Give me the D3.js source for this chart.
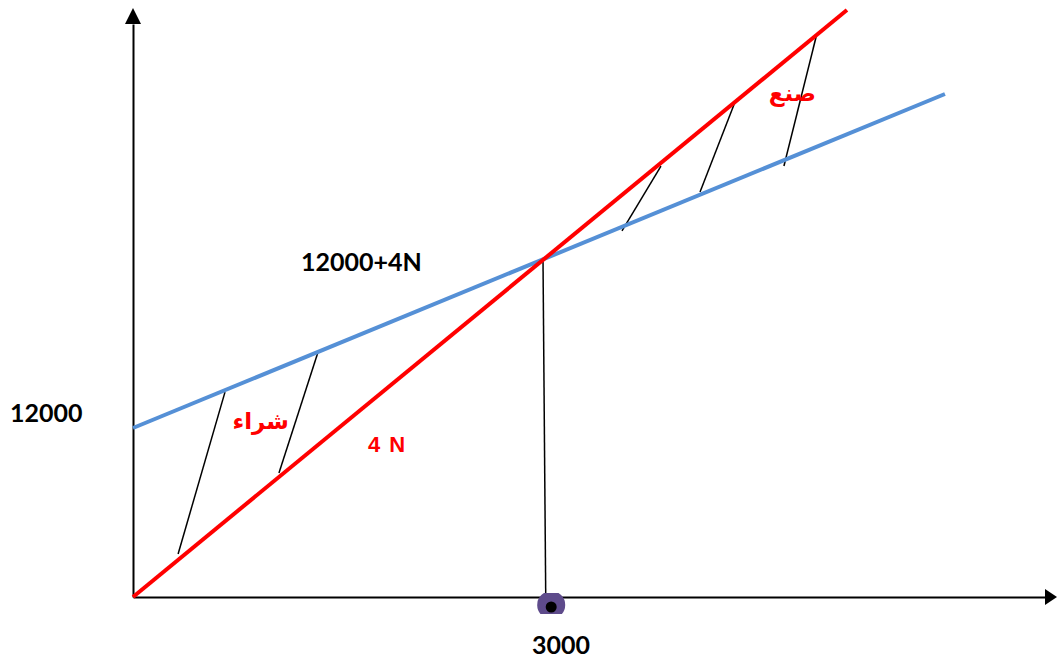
<!DOCTYPE html>
<html>
<head>
<meta charset="utf-8">
<script src="https://cdn.jsdelivr.net/npm/d3@7"></script>
<style>
  html, body { margin: 0; padding: 0; background: #fff; }
  svg { display: block; }
</style>
</head>
<body>
<svg id="chart" width="1057" height="661"></svg>
<script>
// ---- data (schematic units) ----
const redLine  = [[0, 0], [5224, 41680]];          // 4 N
const blueLine = [[0, 12000], [5941, 35716]];      // 12000 + 4N
const breakEven = [[3000, 23929], [3020, 0]];      // drop line at N = 3000
const hatchBuy  = [ [[330, 3050], [673, 14550]], [[1068, 8800], [1354, 17400]] ];
const hatchMake = [ [[3578, 25990], [3863, 30600]], [[4149, 28760], [4405, 35150]], [[4763, 30600], [4998, 39760]] ];
const xTickLabels = ["3000"];
const yTickLabels = ["12000"];
const xAxisMax = 6673, xArrowTip = 6761;
const yAxisMax = 40686, yArrowTip = 41822;

const svg = d3.select("#chart");
const x = d3.scaleLinear().domain([0, 3000]).range([133, 543]);
const y = d3.scaleLinear().domain([0, 12000]).range([597, 428]);
const line = d3.line().x(d => x(d[0])).y(d => y(d[1]));

// axes (no ticks, domain line only)
const xAxis = d3.axisBottom(x).tickValues([]).tickSizeOuter(0);
const yAxis = d3.axisLeft(y).tickValues([]).tickSizeOuter(0);
svg.append("g").attr("transform", `translate(0,${y(0)})`).call(xAxis.scale(x.copy().domain([0, xAxisMax]).range([x(0), x(xAxisMax)])));
svg.append("g").attr("transform", `translate(${x(0)},0)`).call(yAxis.scale(y.copy().domain([0, yAxisMax]).range([y(0), y(yAxisMax)])));
svg.selectAll(".domain").attr("stroke", "#000").attr("stroke-width", 2);

// arrowheads
svg.append("path")
  .attr("d", `M${x(xAxisMax)},${y(0) - 8} L${x(xArrowTip)},${y(0)} L${x(xAxisMax)},${y(0) + 8} Z`)
  .attr("fill", "#000");
svg.append("path")
  .attr("d", `M${x(0) - 8},${y(yAxisMax)} L${x(0)},${y(yArrowTip)} L${x(0) + 8},${y(yAxisMax)} Z`)
  .attr("fill", "#000");

// hatch lines
svg.append("g").selectAll("path").data(hatchBuy.concat(hatchMake)).join("path")
  .attr("d", line).attr("stroke", "#000").attr("stroke-width", 1.5).attr("fill", "none");

// drop line
svg.append("path").datum(breakEven).attr("d", line)
  .attr("stroke", "#000").attr("stroke-width", 1.5).attr("fill", "none");

// main lines
svg.append("path").datum(blueLine).attr("d", line)
  .attr("stroke", "#5590d6").attr("stroke-width", 4).attr("fill", "none");
svg.append("path").datum(redLine).attr("d", line)
  .attr("stroke", "#ff0000").attr("stroke-width", 4).attr("fill", "none");

// break-even marker
const cx = x(3060), cy = y(0) + 8;
svg.append("clipPath").attr("id", "dotclip").append("rect")
  .attr("x", cx - 15).attr("y", y(0) - 4).attr("width", 30).attr("height", 21);
svg.append("circle").attr("cx", cx).attr("cy", cy).attr("r", 14)
  .attr("fill", "#5e4b8b").attr("clip-path", "url(#dotclip)");
svg.append("circle").attr("cx", cx).attr("cy", cy + 2).attr("r", 5.5).attr("fill", "#000");

// labels
const bold = "Lato, 'Open Sans', sans-serif";
svg.append("text").text(yTickLabels[0]).attr("x", 10).attr("y", 422)
  .attr("font-family", bold).attr("font-weight", "bold").attr("font-size", 25).attr("fill", "#000");
svg.append("text").text(xTickLabels[0]).attr("x", 532).attr("y", 654)
  .attr("font-family", bold).attr("font-weight", "bold").attr("font-size", 25).attr("fill", "#000");
svg.append("text").text("12000+4N").attr("x", 301).attr("y", 271)
  .attr("font-family", bold).attr("font-weight", "bold").attr("font-size", 25).attr("fill", "#000");
svg.append("text").text("4 N").attr("x", 368).attr("y", 452)
  .attr("letter-spacing", 1.5)
  .attr("font-family", "'Liberation Sans', Arial, sans-serif").attr("font-weight", "bold").attr("font-size", 22).attr("fill", "#ff0000");
svg.append("text").text("شراء").attr("x", 289).attr("y", 429).attr("text-anchor", "start")
  .attr("direction", "rtl")
  .attr("font-family", "'DejaVu Sans', sans-serif").attr("font-weight", "bold").attr("font-size", 23).attr("fill", "#ff0000");
svg.append("text").text("صنع").attr("x", 816).attr("y", 101).attr("text-anchor", "start")
  .attr("direction", "rtl")
  .attr("font-family", "'DejaVu Sans', sans-serif").attr("font-weight", "bold").attr("font-size", 23).attr("fill", "#ff0000");
</script>
</body>
</html>
